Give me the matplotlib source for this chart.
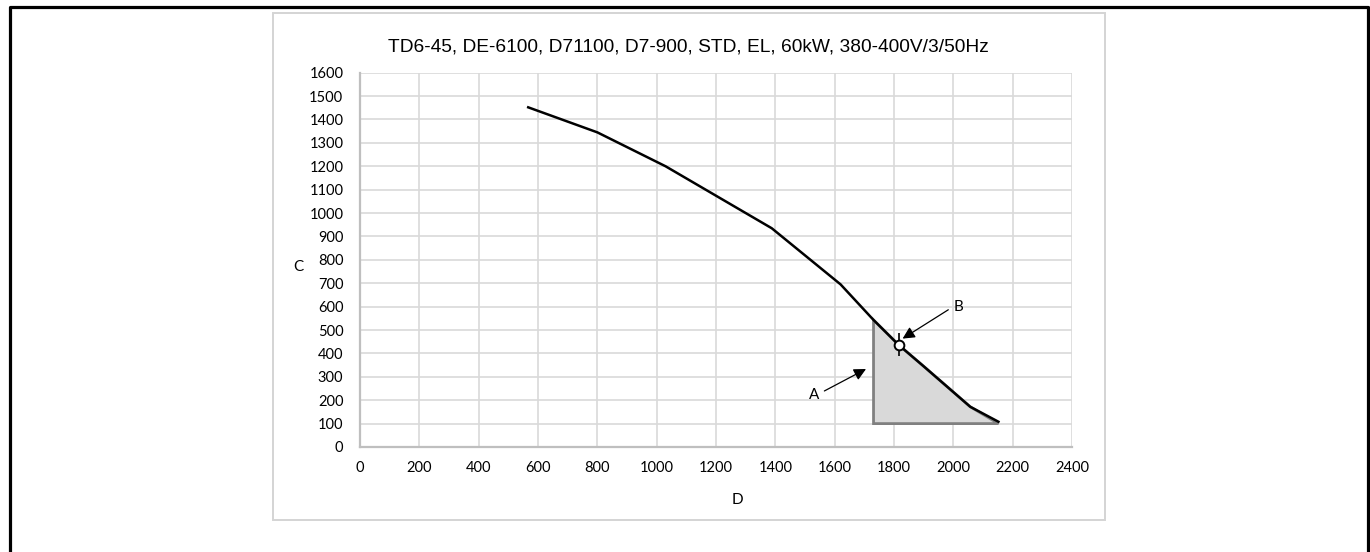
import matplotlib.pyplot as plt
from matplotlib.lines import Line2D
from matplotlib.patches import Rectangle

# pump curve
curve_x = [567, 800, 1030, 1388, 1620, 1731, 1816, 1900, 2057, 2152]
curve_y = [1452, 1345, 1200, 935, 695, 543, 436, 345, 172, 108]

# working region (shaded)
region_x = [1731, 1731, 1816, 1900, 2057, 2152]
region_y = [100, 543, 436, 345, 172, 100]

# duty point B
duty_x = [1816]
duty_y = [438]
duty_err = [48]

xticks = list(range(0, 2401, 200))
yticks = list(range(0, 1601, 100))

plt.rcParams['font.family'] = ['Lato', 'DejaVu Sans']

fig = plt.figure(figsize=(13.7, 5.52), dpi=100)
W, H = 1370, 552

ax = fig.add_axes([360 / W, 1 - 447 / H, 712 / W, 374.3 / H])

ax.fill(region_x, region_y, facecolor='#d9d9d9', edgecolor='#808080', lw=2, zorder=2)
ax.plot(curve_x, curve_y, color='black', lw=1.8, zorder=3)
ax.errorbar(duty_x, duty_y, yerr=duty_err, fmt='o', ms=7, mfc='white', mec='black',
            mew=1.4, ecolor='black', elinewidth=1.2, capsize=0, zorder=4)

ax.annotate('', xy=(1714, 339), xytext=(1557, 234),
            arrowprops=dict(arrowstyle='-|>', color='black', lw=0.9, mutation_scale=18))
ax.text(1530, 222, 'A', ha='center', va='center', fontsize=11)
ax.annotate('', xy=(1821, 457), xytext=(1991, 593),
            arrowprops=dict(arrowstyle='-|>', color='black', lw=0.9, mutation_scale=18))
ax.text(2018, 597, 'B', ha='center', va='center', fontsize=11)

ax.set_xlim(0, 2400)
ax.set_ylim(0, 1600)
ax.set_xticks(xticks)
ax.set_yticks(yticks)
ax.tick_params(length=0, labelsize=10.5, colors='black')
ax.tick_params(axis='y', pad=12)
ax.tick_params(axis='x', pad=10)
ax.grid(True, color='#d9d9d9', lw=1.2)
ax.set_axisbelow(True)
for s in ['top', 'right']:
    ax.spines[s].set_visible(False)
for s in ['left', 'bottom']:
    ax.spines[s].set_color('#bfbfbf')
    ax.spines[s].set_linewidth(1.6)

fig.text(688 / W, 1 - 47 / H, 'TD6-45, DE-6100, D71100, D7-900, STD, EL, 60kW, 380-400V/3/50Hz',
         ha='center', va='center', fontsize=13.8, family='Liberation Sans')
fig.text(298 / W, 1 - 267 / H, 'C', ha='center', va='center', fontsize=11)
fig.text(737 / W, 1 - 500 / H, 'D', ha='center', va='center', fontsize=11)

# chart area frame
fig.patches.append(Rectangle((273 / W, 1 - 520 / H), 832 / W, 507 / H, transform=fig.transFigure,
                             fill=False, edgecolor='#d4d4d4', lw=1.4))
# outer black frame (no bottom edge)
fig.lines.append(Line2D([9.5 / W, 9.5 / W, 1368 / W, 1368 / W], [0, 1 - 7 / H, 1 - 7 / H, 0],
                        transform=fig.transFigure, color='black', lw=2.3))

plt.savefig('out.png', dpi=100)
